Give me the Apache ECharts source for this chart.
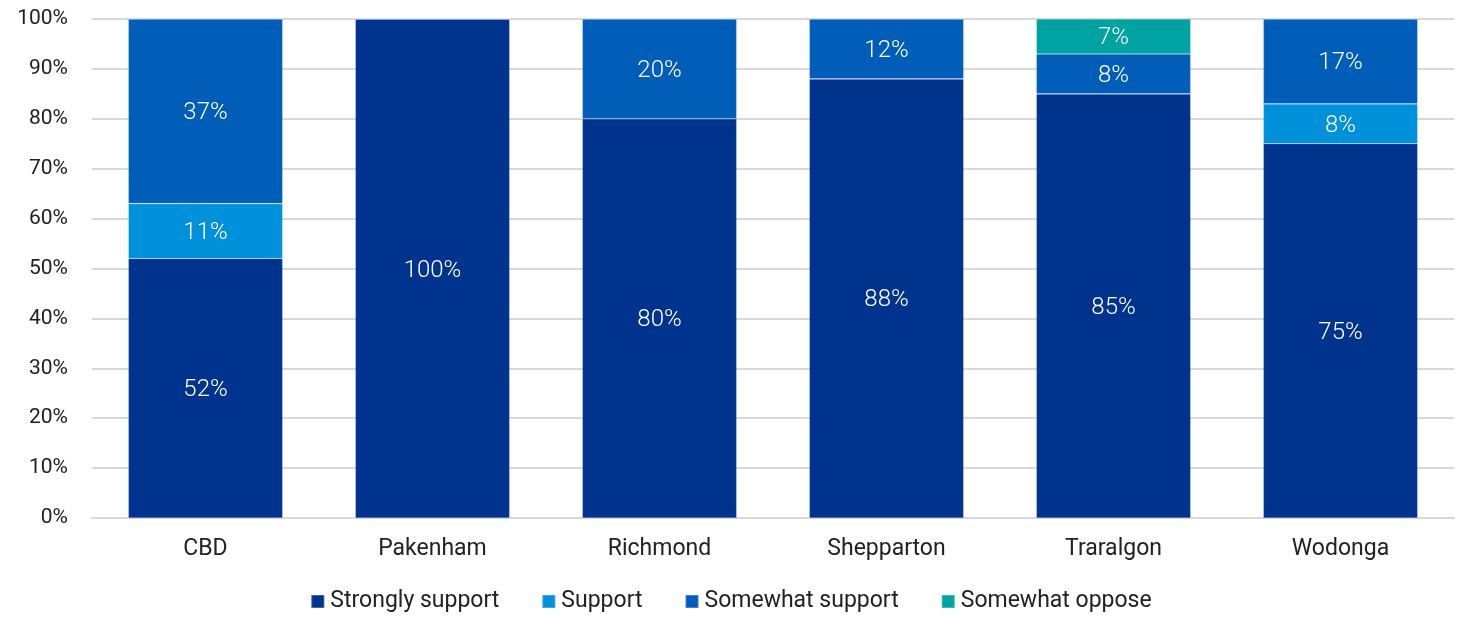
<!DOCTYPE html>
<html>
<head>
<meta charset="utf-8">
<script src="https://cdn.jsdelivr.net/npm/echarts@6/dist/echarts.min.js"></script>
<style>
  html, body { margin: 0; padding: 0; background: #fff; }
  #chart { width: 1462px; height: 618px; }
</style>
</head>
<body>
<div id="chart"></div>
<script>
const categories = ["CBD", "Pakenham", "Richmond", "Shepparton", "Traralgon", "Wodonga"];
const strongly = [52, 100, 80, 88, 85, 75];
const support = [11, 0, 0, 0, 0, 8];
const somewhat = [37, 0, 20, 12, 8, 17];
const oppose = [0, 0, 0, 0, 7, 0];
const yTicks = [0, 10, 20, 30, 40, 50, 60, 70, 80, 90, 100];

const font = "Roboto";
const chart = echarts.init(document.getElementById("chart"));

function bar(name, data, color) {
  return {
    name: name,
    type: "bar",
    stack: "total",
    barWidth: "68%",
    itemStyle: { color: color, borderColor: "rgba(255,255,255,0.25)", borderWidth: 0.6 },
    label: {
      show: true,
      position: "inside",
      color: "#fff",
      fontFamily: font,
      fontWeight: 300,
      fontSize: 24,
      offset: [0, 2],
      formatter: (p) => (p.value > 0 ? p.value + "%" : "")
    },
    data: data
  };
}

chart.setOption({
  animation: false,
  textStyle: { fontFamily: font },
  grid: { left: 92, right: 8, top: 19, bottom: 100, containLabel: false },
  legend: {
    bottom: 0,
    left: "center",
    itemWidth: 13,
    itemHeight: 13,
    itemGap: 42,
    icon: "rect",
    textStyle: { fontFamily: font, fontSize: 23, color: "#222", padding: [0, 0, 0, 1] },
    data: ["Strongly support", "Support", "Somewhat support", "Somewhat oppose"]
  },
  xAxis: {
    type: "category",
    data: categories,
    axisLine: { lineStyle: { color: "#d9d9d9", width: 2 } },
    axisTick: { show: false },
    axisLabel: { color: "#222", fontSize: 23, fontFamily: font, margin: 20 }
  },
  yAxis: {
    type: "value",
    min: yTicks[0],
    max: yTicks[yTicks.length - 1],
    interval: 10,
    splitLine: { lineStyle: { color: "#d9d9d9", width: 2 } },
    axisLine: { show: false },
    axisTick: { show: false },
    axisLabel: { color: "#222", fontSize: 21, fontFamily: font, margin: 24, formatter: "{value}%" }
  },
  series: [
    bar("Strongly support", strongly, "#00338D"),
    bar("Support", support, "#0091DA"),
    bar("Somewhat support", somewhat, "#005EB8"),
    bar("Somewhat oppose", oppose, "#00A3A1")
  ]
});
</script>
</body>
</html>
